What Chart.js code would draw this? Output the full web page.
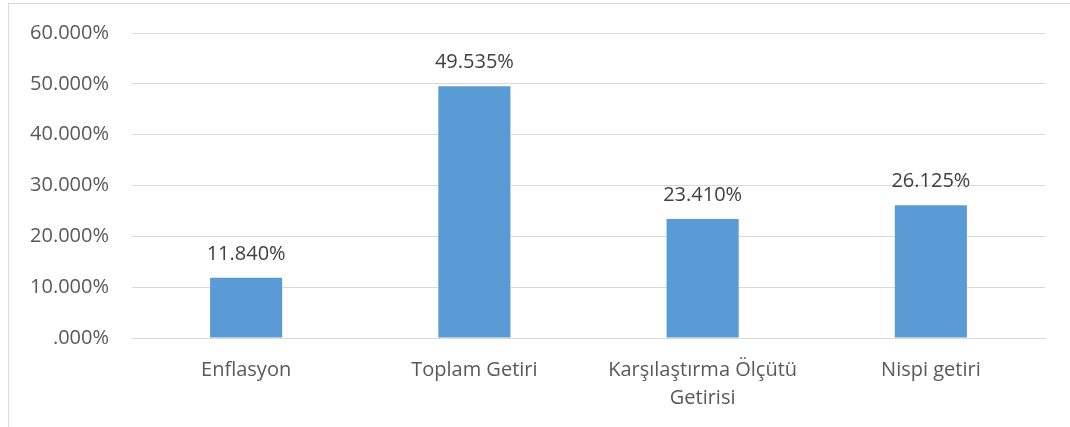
<!DOCTYPE html>
<html><head><meta charset="utf-8">
<script src="https://cdn.jsdelivr.net/npm/chart.js@4/dist/chart.umd.min.js"></script>
<style>
html,body{margin:0;padding:0;background:#fff;width:1070px;height:427px;overflow:hidden;}
#frame{position:absolute;left:8px;top:3px;width:1100px;height:440px;border-left:1px solid #d9d9d9;border-top:1px solid #d9d9d9;}
#wrap{position:absolute;left:0;top:0;width:1070px;height:427px;}
</style></head>
<body>
<div id="frame"></div>
<div id="wrap"><canvas id="c" width="1070" height="427"></canvas></div>
<script>
const categories = ["Enflasyon", "Toplam Getiri", ["Karşılaştırma Ölçütü", "Getirisi"], "Nispi getiri"];
const values = [11.840, 49.535, 23.410, 26.125];
const yTicks = [0, 10, 20, 30, 40, 50, 60];

function fmt(v){ let s = v.toFixed(3); if (s.startsWith("0.")) s = s.slice(1); return s + "%"; }
const FONT = '"Open Sans", "DejaVu Sans", sans-serif';

const labelPlugin = {
  id: 'barLabels',
  afterDatasetsDraw(chart){
    const ctx = chart.ctx;
    const meta = chart.getDatasetMeta(0);
    ctx.save();
    ctx.font = '20px ' + FONT;
    ctx.fillStyle = '#404040';
    ctx.textAlign = 'center';
    ctx.textBaseline = 'middle';
    meta.data.forEach((bar, i) => {
      ctx.fillText(fmt(values[i]), bar.x, bar.y - 24);
    });
    ctx.restore();
  }
};

new Chart(document.getElementById('c'), {
  type: 'bar',
  data: { labels: categories, datasets: [{ data: values, backgroundColor: '#5B9BD5', categoryPercentage: 1, barPercentage: 0.316 }] },
  options: {
    responsive: false, animation: false,
    layout: { padding: { top: 33, right: 25, left: 0, bottom: 0 } },
    plugins: { legend: { display: false }, tooltip: { enabled: false } },
    scales: {
      x: {
        grid: { display: false, drawTicks: false },
        border: { display: true, color: '#d9d9d9', width: 1 },
        ticks: { color: '#595959', font: { size: 20, family: FONT, lineHeight: 1.4 }, padding: 18, maxRotation: 0, autoSkip: false },
        afterFit(s){ s.height = 89; }
      },
      y: {
        min: 0, max: 60,
        afterBuildTicks(s){ s.ticks = yTicks.map(v => ({ value: v })); },
        grid: { color: '#d9d9d9', lineWidth: 1, drawTicks: false },
        border: { display: false },
        ticks: { color: '#595959', font: { size: 20, family: FONT }, padding: 23, callback: v => fmt(v) },
        afterFit(s){ s.width = 132; s.paddingTop = 0; s.paddingBottom = 0; }
      }
    }
  },
  plugins: [labelPlugin]
});
</script>
</body></html>
